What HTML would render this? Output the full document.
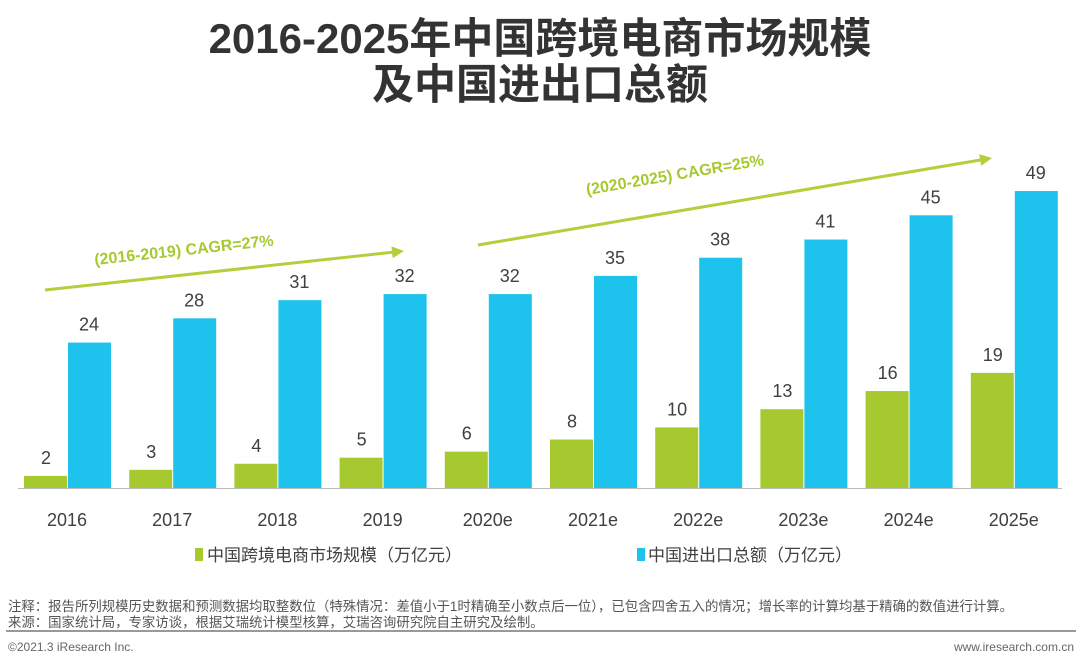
<!DOCTYPE html>
<html><head><meta charset="utf-8"><style>
body{margin:0;width:1080px;height:667px;background:#fff;font-family:"Liberation Sans","Noto Sans CJK SC",sans-serif;overflow:hidden;position:relative}
.t{position:absolute;left:0;width:1080px;text-align:center;font-weight:bold;color:#333;font-size:42px;line-height:46px}
.note{position:absolute;left:8px;font-size:13.4px;color:#555}
</style></head><body>
<div class="t" style="top:16px">2016-2025年中国跨境电商市场规模<br>及中国进出口总额</div>
<svg id="c" width="1080" height="667" style="position:absolute;left:0;top:0"></svg>
<div class="note" style="top:595px">注释：报告所列规模历史数据和预测数据均取整数位（特殊情况：差值小于1时精确至小数点后一位），已包含四舍五入的情况；增长率的计算均基于精确的数值进行计算。</div>
<div class="note" style="top:611px">来源：国家统计局，专家访谈，根据艾瑞统计模型核算，艾瑞咨询研究院自主研究及绘制。</div>
<div style="position:absolute;left:6px;top:630px;width:1070px;height:2px;background:#999"></div>
<div class="note" style="top:640px;color:#666;font-size:12px">©2021.3 iResearch Inc.</div>
<div class="note" style="top:640px;left:auto;right:6px;color:#666;font-size:12px">www.iresearch.com.cn</div>
<script>
const categories=["2016","2017","2018","2019","2020e","2021e","2022e","2023e","2024e","2025e"];
const ecomValues=[2,3,4,5,6,8,10,13,16,19];
const tradeValues=[24,28,31,32,32,35,38,41,45,49];
const NS="http://www.w3.org/2000/svg";
const svg=document.getElementById('c');
const base=488, k=6.06;
const y=v=>base-v*k;
const xc=i=>67+i*105.2;
function el(t,a,txt){const e=document.createElementNS(NS,t);for(const n in a)e.setAttribute(n,a[n]);if(txt!=null)e.textContent=txt;svg.appendChild(e);return e;}
categories.forEach((c,i)=>{
  const g=el('rect',{x:xc(i)-43,y:y(ecomValues[i]),width:43,height:ecomValues[i]*k,fill:'#a6c930'});
  
  
  const b=el('rect',{x:xc(i)+1,y:y(tradeValues[i]),width:43,height:tradeValues[i]*k,fill:'#1ec3ed'});
  
  
  const l1=el('text',{x:xc(i)-21,y:y(ecomValues[i])-12,'text-anchor':'middle','font-size':18,fill:'#404040'},ecomValues[i]);
  
  
  const l2=el('text',{x:xc(i)+22,y:y(tradeValues[i])-12,'text-anchor':'middle','font-size':18,fill:'#404040'},tradeValues[i]);
  
  
  const xl=el('text',{x:xc(i),y:526,'text-anchor':'middle','font-size':18,fill:'#404040'},c);
  
  
});
const ax=el('line',{x1:18,y1:488.5,x2:1062,y2:488.5,stroke:'#bbb','stroke-width':1});


function arrow(x1,y1,x2,y2,name){
  const a=Math.atan2(y2-y1,x2-x1);
  const l=el('line',{x1:x1,y1:y1,x2:x2-8*Math.cos(a),y2:y2-8*Math.sin(a),stroke:'#b3cf3c','stroke-width':3});
  
  
  const p=[[x2,y2],[x2-12*Math.cos(a)+6*Math.sin(a),y2-12*Math.sin(a)-6*Math.cos(a)],[x2-12*Math.cos(a)-6*Math.sin(a),y2-12*Math.sin(a)+6*Math.cos(a)]];
  const h=el('polygon',{points:p.map(q=>q.join(',')).join(' '),fill:'#b3cf3c'});
  
  
}
arrow(45,290,404,251,'cagr-arrow-1');
arrow(478,245,992,158,'cagr-arrow-2');
const t1=el('text',{x:0,y:0,'font-size':16,'font-weight':'bold',fill:'#a6c930',transform:'translate(95,265) rotate(-6.2)'},'(2016-2019)   CAGR=27%');


const t2=el('text',{x:0,y:0,'font-size':16,'font-weight':'bold',fill:'#a6c930',transform:'translate(587,195) rotate(-9.6)'},'(2020-2025)   CAGR=25%');


const lg1=el('rect',{x:195,y:548,width:8,height:13,fill:'#a6c930'});


const lt1=el('text',{x:207,y:561,'font-size':17,fill:'#404040'},'中国跨境电商市场规模（万亿元）');


const lg2=el('rect',{x:637,y:548,width:8,height:13,fill:'#1ec3ed'});


const lt2=el('text',{x:648,y:561,'font-size':17,fill:'#404040'},'中国进出口总额（万亿元）');


</script>
</body></html>
